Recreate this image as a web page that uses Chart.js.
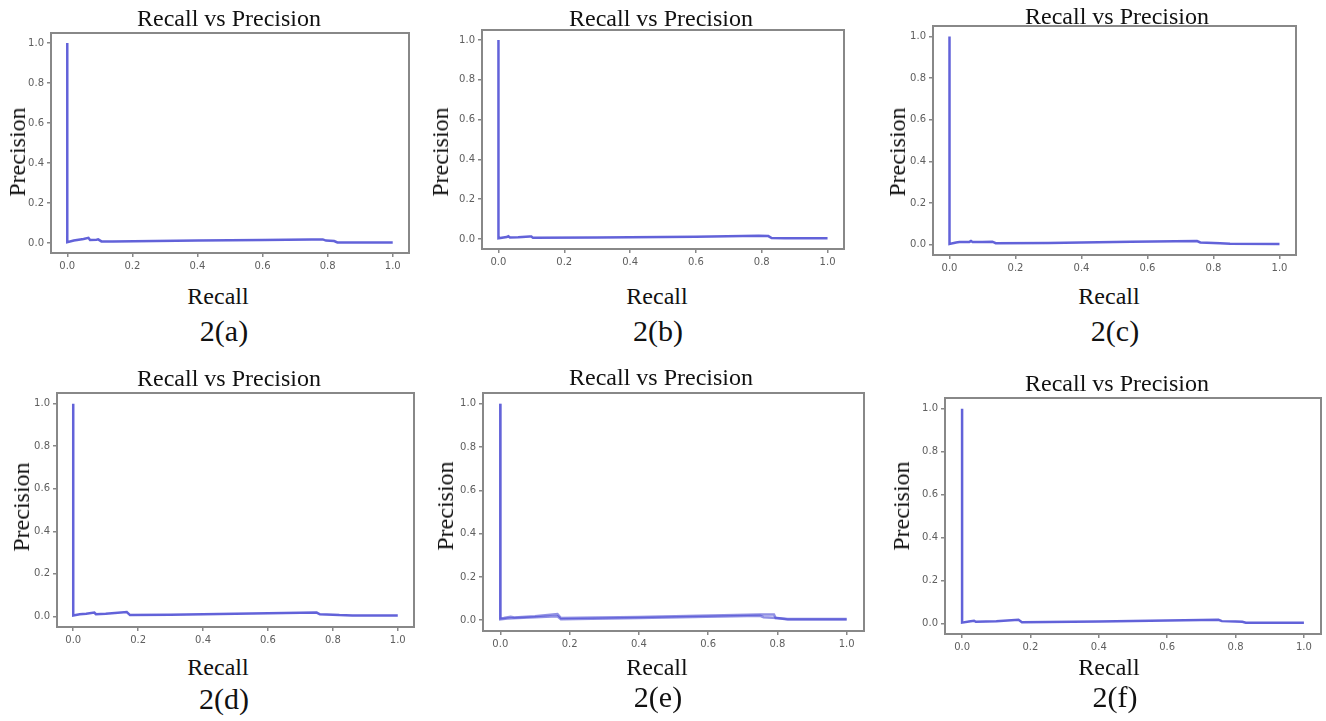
<!DOCTYPE html>
<html>
<head>
<meta charset="utf-8">
<script src="https://cdn.jsdelivr.net/npm/chart.js@4/dist/chart.umd.min.js"></script>
<style>
    body { margin: 0; background: #fff; }
    #page { position: relative; width: 1326px; height: 721px; overflow: hidden; background: #fff; }
    canvas { position: absolute; }
    .t {
        position: absolute;
        font-family: "Liberation Serif", "Times New Roman", serif;
        color: #111;
        line-height: 1;
        white-space: nowrap;
        transform: translate(-50%, -50%);
    }
    .title, .axis { font-size: 24px; }
    .cap { font-size: 30px; }
    .ylab { transform: translate(-50%, -50%) rotate(-90deg); }
</style>
</head>
<body>
<div id="page"></div>
<script>
const tickValues = [0, 0.2, 0.4, 0.6, 0.8, 1.0];
const titleText = "Recall vs Precision";
const xLabel = "Recall";
const yLabel = "Precision";
const captions = ["2(a)", "2(b)", "2(c)", "2(d)", "2(e)", "2(f)"];

const recallA = [0, 0, 0.02, 0.05, 0.065, 0.07, 0.09, 0.095, 0.105, 0.14, 0.4, 0.6, 0.75, 0.785, 0.795, 0.82, 0.83, 0.9, 1.0];
const precisionA = [1.0, 0.004, 0.012, 0.02, 0.026, 0.015, 0.016, 0.018, 0.008, 0.008, 0.012, 0.015, 0.018, 0.018, 0.012, 0.01, 0.003, 0.003, 0.003];

const recallB = [0, 0, 0.025, 0.03, 0.035, 0.06, 0.095, 0.1, 0.105, 0.3, 0.6, 0.79, 0.82, 0.83, 0.87, 1.0];
const precisionB = [1.0, 0.004, 0.01, 0.014, 0.008, 0.009, 0.013, 0.013, 0.006, 0.008, 0.012, 0.016, 0.015, 0.005, 0.004, 0.004];

const recallC = [0, 0, 0.02, 0.03, 0.06, 0.065, 0.07, 0.1, 0.13, 0.14, 0.3, 0.55, 0.75, 0.76, 0.8, 0.82, 0.85, 1.0];
const precisionC = [1.0, 0.003, 0.01, 0.012, 0.013, 0.017, 0.012, 0.012, 0.014, 0.007, 0.008, 0.014, 0.017, 0.01, 0.008, 0.007, 0.004, 0.003];

const recallD = [0, 0, 0.02, 0.04, 0.065, 0.07, 0.1, 0.165, 0.175, 0.3, 0.55, 0.75, 0.76, 0.8, 0.82, 0.86, 1.0];
const precisionD = [1.0, 0.004, 0.01, 0.012, 0.018, 0.01, 0.012, 0.02, 0.006, 0.008, 0.014, 0.018, 0.01, 0.008, 0.006, 0.004, 0.004];

// 2(e) shows two runs drawn over each other
const recallE1 = [0, 0, 0.01, 0.03, 0.04, 0.1, 0.165, 0.175, 0.4, 0.75, 0.79, 0.795, 0.83, 1.0];
const precisionE1 = [1.0, 0.008, 0.01, 0.016, 0.012, 0.018, 0.028, 0.01, 0.015, 0.026, 0.026, 0.01, 0.006, 0.006];
const recallE2 = [0, 0, 0.02, 0.05, 0.165, 0.175, 0.4, 0.75, 0.76, 0.8, 0.83, 1.0];
const precisionE2 = [1.0, 0.004, 0.008, 0.01, 0.018, 0.004, 0.01, 0.02, 0.014, 0.01, 0.003, 0.003];

const recallF = [0, 0, 0.02, 0.035, 0.04, 0.1, 0.165, 0.175, 0.4, 0.75, 0.76, 0.8, 0.82, 0.83, 1.0];
const precisionF = [1.0, 0.003, 0.008, 0.012, 0.007, 0.01, 0.016, 0.005, 0.008, 0.016, 0.01, 0.008, 0.007, 0.003, 0.003];

// frame box [left, top, right, bottom] and text centres for each panel
const panels = [
    { frame: [51, 32, 409, 253], title: [229, 18], ylab: [17, 152], xlab: [218, 296], cap: [224, 331],
      series: [[recallA, precisionA]] },
    { frame: [482, 29, 844, 249], title: [661, 18], ylab: [440, 152], xlab: [657, 296], cap: [658, 331],
      series: [[recallB, precisionB]] },
    { frame: [933, 25, 1296, 255], title: [1117, 16], ylab: [897, 152], xlab: [1109, 296], cap: [1115, 331],
      series: [[recallC, precisionC]] },
    { frame: [57, 392, 414, 627], title: [229, 378], ylab: [21, 507], xlab: [218, 667], cap: [224, 699],
      series: [[recallD, precisionD]] },
    { frame: [483, 392, 864, 631], title: [661, 377], ylab: [445, 506], xlab: [657, 667], cap: [658, 697],
      series: [[recallE1, precisionE1], [recallE2, precisionE2]] },
    { frame: [945, 397, 1321, 634], title: [1117, 383], ylab: [901, 506], xlab: [1109, 667], cap: [1115, 697],
      series: [[recallF, precisionF]] },
];

const page = document.getElementById("page");
const LEFT = 45, RIGHT = 10, TOP = 8, BOTTOM = 26;

const framePlugin = {
    id: "frame",
    afterDraw(chart) {
        const a = chart.chartArea;
        const ctx = chart.ctx;
        ctx.save();
        ctx.strokeStyle = "#888";
        ctx.lineWidth = 2;
        ctx.strokeRect(a.left, a.top, a.right - a.left, a.bottom - a.top);
        ctx.restore();
    }
};

function addText(text, pos, cls) {
    const el = document.createElement("div");
    el.className = "t " + cls;
    el.textContent = text;
    el.style.left = pos[0] + "px";
    el.style.top = pos[1] + "px";
    page.appendChild(el);
}

function axisOptions(isX) {
    return {
        type: "linear",
        min: -0.05,
        max: 1.05,
        afterBuildTicks: (scale) => { scale.ticks = tickValues.map((v) => ({ value: v })); },
        afterFit: (scale) => {
            if (isX) scale.height = BOTTOM;
            else scale.width = LEFT;
        },
        grid: { drawOnChartArea: false, drawTicks: true, tickLength: 4, color: "#888", lineWidth: 1.5 },
        border: { display: false },
        ticks: {
            padding: 3,
            color: "#5e5e5e",
            font: { family: "DejaVu Sans", size: 10 },
            callback: (v) => Number(v).toFixed(1),
            maxRotation: 0,
        },
    };
}

function drawPanel(p, idx) {
    const [l, t, r, b] = p.frame;
    const canvas = document.createElement("canvas");
    canvas.width = (r - l) + LEFT + RIGHT;
    canvas.height = (b - t) + TOP + BOTTOM;
    canvas.style.left = (l - LEFT) + "px";
    canvas.style.top = (t - TOP) + "px";
    page.appendChild(canvas);

    const alpha = p.series.length > 1 ? 0.6 : 0.85;
    const datasets = p.series.map(([xs, ys]) => ({
        data: xs.map((x, i) => ({ x: x, y: ys[i] })),
        borderColor: `rgba(70, 70, 210, ${alpha})`,
        borderWidth: 2.5,
        pointRadius: 0,
        tension: 0,
        fill: false,
    }));

    new Chart(canvas.getContext("2d"), {
        type: "line",
        data: { datasets: datasets },
        options: {
            responsive: false,
            animation: false,
            layout: { padding: { top: TOP, right: RIGHT, left: 0, bottom: 0 } },
            plugins: { legend: { display: false }, tooltip: { enabled: false } },
            scales: { x: axisOptions(true), y: axisOptions(false) },
        },
        plugins: [framePlugin],
    });

    addText(titleText, p.title, "title");
    addText(yLabel, p.ylab, "axis ylab");
    addText(xLabel, p.xlab, "axis");
    addText(captions[idx], p.cap, "cap");
}

panels.forEach(drawPanel);
</script>
</body>
</html>
